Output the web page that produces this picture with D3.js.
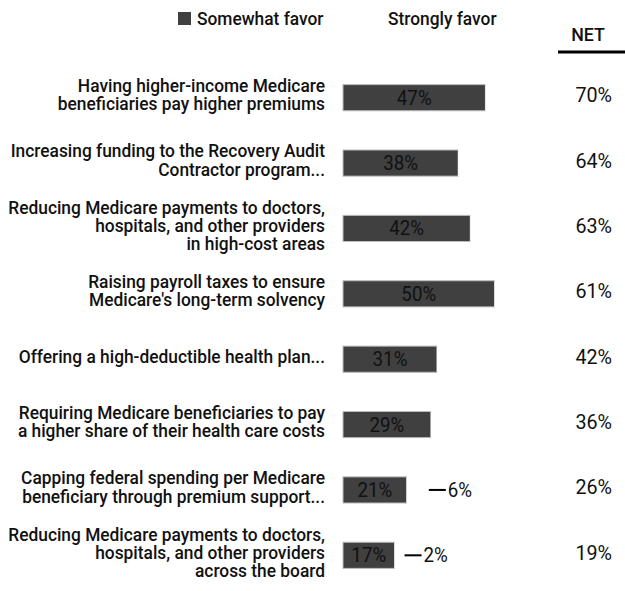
<!DOCTYPE html>
<html>
<head>
<meta charset="utf-8">
<script src="https://cdn.jsdelivr.net/npm/d3@7"></script>
<style>
  body { margin: 0; background: #fff; }
  text { font-family: Roboto, "Liberation Sans", sans-serif; fill: #111; }
</style>
</head>
<body>
<svg id="chart"></svg>
<script>
  // data
  let categories = [
    ["Having higher-income Medicare", "beneficiaries pay higher premiums"],
    ["Increasing funding to the Recovery Audit", "Contractor program..."],
    ["Reducing Medicare payments to doctors,", "hospitals, and other providers", "in high-cost areas"],
    ["Raising payroll taxes to ensure", "Medicare's long-term solvency"],
    ["Offering a high-deductible health plan..."],
    ["Requiring Medicare beneficiaries to pay", "a higher share of their health care costs"],
    ["Capping federal spending per Medicare", "beneficiary through premium support..."],
    ["Reducing Medicare payments to doctors,", "hospitals, and other providers", "across the board"]
  ];
  let somewhat = [47, 38, 42, 50, 31, 29, 21, 17];
  let strongly = [23, 26, 21, 11, 11, 7, 6, 2];
  let net = [70, 64, 63, 61, 42, 36, 26, 19];

  let width = 625, height = 591;
  let svg = d3.select("#chart").attr("width", width).attr("height", height);

  let y = d3.scaleBand().domain(d3.range(categories.length)).range([65, 588]).paddingInner(0.6).paddingOuter(0.3);
  let x = d3.scaleLinear().domain([0, 100]).range([343, 646]);

  // the original uses a condensed face; squeeze a normal one to the same width
  let probe = svg.append("text").attr("font-size", 18.5).attr("font-weight", 500).text("Reducing Medicare payments to doctors,");
  let k = 317 / probe.node().getComputedTextLength();
  probe.remove();

  // narrow text at (px, py)
  function ntext(parent, px, py, str, size, anchor, weight) {
    return parent.append("g")
      .attr("transform", `translate(${px},${py}) scale(${k},1)`)
      .append("text")
      .attr("text-anchor", anchor || "start")
      .attr("font-size", size)
      .attr("font-weight", weight || 400)
      .text(str);
  }

  // header
  svg.append("rect").attr("x", 178).attr("y", 12).attr("width", 13).attr("height", 13).attr("fill", "#404040");
  ntext(svg, 197, 25, "Somewhat favor", 18.5, "start", 500);
  ntext(svg, 388, 25, "Strongly favor", 18.5, "start", 500);
  ntext(svg, 588, 41, "NET", 19, "middle", 500);
  svg.append("line").attr("x1", 558).attr("x2", 625).attr("y1", 52).attr("y2", 52).attr("stroke", "#000").attr("stroke-width", 3);

  let rows = svg.selectAll("g.row").data(categories).enter().append("g").attr("class", "row");

  // category labels
  rows.each(function(lines, i) {
    let cy = y(i) + y.bandwidth() / 2;
    let lh = 18.3;
    lines.forEach((l, j) => {
      ntext(d3.select(this), 325, cy + (j - (lines.length - 1) / 2) * lh + 3.5, l, 18.5, "end", 500);
    });
  });

  // somewhat favor bars
  rows.append("rect")
    .attr("x", x(0))
    .attr("y", (d, i) => y(i))
    .attr("width", (d, i) => x(somewhat[i]) - x(0))
    .attr("height", y.bandwidth())
    .attr("fill", "#404040")
    .attr("stroke", "#bdbdbd")
    .attr("stroke-width", 1);

  rows.each(function(d, i) {
    ntext(d3.select(this), (x(0) + x(somewhat[i])) / 2, y(i) + y.bandwidth() / 2 + 7, somewhat[i] + "%", 20, "middle", 400);
  });

  // strongly favor segments (white)
  rows.append("rect")
    .attr("x", (d, i) => x(somewhat[i]))
    .attr("y", (d, i) => y(i))
    .attr("width", (d, i) => x(somewhat[i] + strongly[i]) - x(somewhat[i]))
    .attr("height", y.bandwidth())
    .attr("fill", "#fff");

  // callouts for small strongly-favor values
  rows.each(function(d, i) {
    if (strongly[i] >= 7) return;
    let end = x(somewhat[i] + strongly[i]);
    let cy = y(i) + y.bandwidth() / 2;
    d3.select(this).append("line")
      .attr("x1", end + 4).attr("x2", end + 21)
      .attr("y1", cy).attr("y2", cy)
      .attr("stroke", "#000").attr("stroke-width", 2);
    ntext(d3.select(this), end + 23, cy + 7, strongly[i] + "%", 20, "start", 400);
  });

  // NET column
  rows.each(function(d, i) {
    ntext(d3.select(this), 612, y(i) + y.bandwidth() / 2 + 4.5, net[i] + "%", 21, "end", 400);
  });
</script>
</body>
</html>
